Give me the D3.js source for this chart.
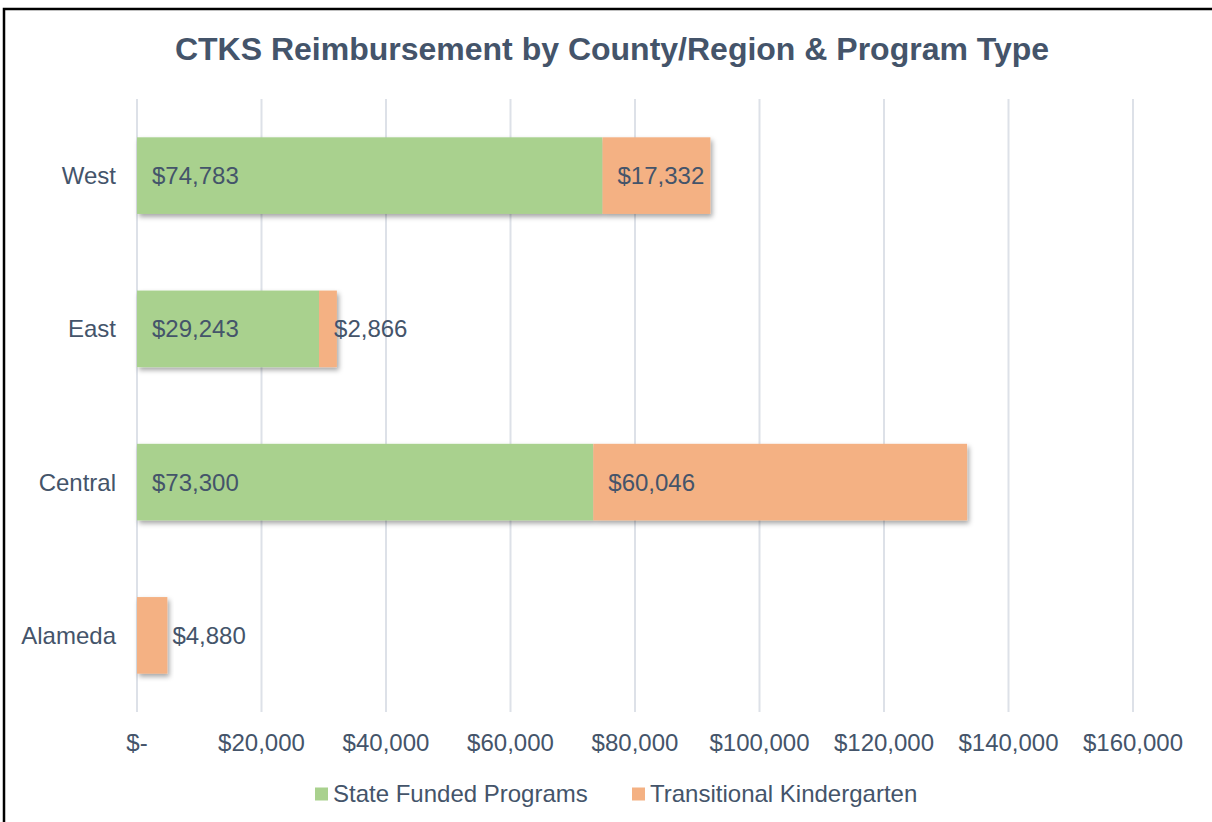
<!DOCTYPE html>
<html>
<head>
<meta charset="utf-8">
<script src="https://cdn.jsdelivr.net/npm/d3@7"></script>
<style>
  html, body { margin: 0; background: #fff; overflow: hidden; }
  svg { display: block; }
  svg text { font-family: "Liberation Sans", Arial, sans-serif; fill: #44546A; }
</style>
</head>
<body>
<div id="chart"></div>
<script>
// data
const regions = ["West", "East", "Central", "Alameda"];
const stateFunded = [74783, 29243, 73300, 0];
const transitionalK = [17332, 2866, 60046, 4880];
const seriesNames = ["State Funded Programs", "Transitional Kindergarten"];
const seriesColors = ["#A9D18E", "#F4B183"];
const xTicks = [0, 20000, 40000, 60000, 80000, 100000, 120000, 140000, 160000];

const W = 1212, H = 822;
const margin = {top: 99, right: 78, bottom: 110, left: 137};
const width = W - margin.left - margin.right;
const height = H - margin.top - margin.bottom;

const svg = d3.select("#chart").append("svg")
  .attr("width", W)
  .attr("height", H);

// drop shadow for the bars
const defs = svg.append("defs");
const shadow = defs.append("filter").attr("id", "shadow")
  .attr("x", "-20%").attr("y", "-20%").attr("width", "140%").attr("height", "150%");
shadow.append("feDropShadow")
  .attr("dx", 2).attr("dy", 3).attr("stdDeviation", 2.5)
  .attr("flood-color", "#000").attr("flood-opacity", 0.35);

// outer frame (only top and left edges are visible in the crop)
svg.append("rect")
  .attr("x", 4).attr("y", 9)
  .attr("width", W + 20).attr("height", H + 20)
  .attr("fill", "none").attr("stroke", "#000").attr("stroke-width", 2.5);

svg.append("text")
  .attr("x", 612).attr("y", 60)
  .attr("text-anchor", "middle")
  .style("font-size", "32px").style("font-weight", "bold")
  .text("CTKS Reimbursement by County/Region & Program Type");

const g = svg.append("g")
  .attr("transform", "translate(" + margin.left + "," + margin.top + ")");

const x = d3.scaleLinear().domain([0, 160000]).range([0, 996]);
const y = d3.scaleBand().domain(regions).range([0, height]).paddingInner(0.5).paddingOuter(0.25);

// gridlines
g.selectAll(".grid").data(xTicks).enter().append("line")
  .attr("class", "grid")
  .attr("x1", d => x(d)).attr("x2", d => x(d))
  .attr("y1", 0).attr("y2", height)
  .attr("stroke", "#DDE1E8").attr("stroke-width", 2);

// x axis labels
const fmt = d => d === 0 ? "$-" : "$" + d3.format(",")(d);
g.selectAll(".xlab").data(xTicks).enter().append("text")
  .attr("class", "xlab")
  .attr("x", d => x(d)).attr("y", height + 39)
  .attr("text-anchor", "middle")
  .style("font-size", "24px")
  .text(fmt);

// category labels
g.selectAll(".ylab").data(regions).enter().append("text")
  .attr("class", "ylab")
  .attr("x", -21).attr("y", d => y(d) + y.bandwidth() / 2)
  .attr("dy", "0.35em")
  .attr("text-anchor", "end")
  .style("font-size", "24px")
  .text(d => d);

// stacked segments
const rows = regions.map((r, i) => ({region: r, values: [stateFunded[i], transitionalK[i]]}));
const segs = [];
rows.forEach(row => {
  let start = 0;
  row.values.forEach((v, s) => {
    if (v > 0) segs.push({region: row.region, series: s, x0: start, x1: start + v, value: v});
    start += v;
  });
});

const barG = g.append("g");
rows.forEach(row => {
  const rs = segs.filter(d => d.region === row.region);
  const rg = barG.append("g").attr("filter", "url(#shadow)");
  rg.selectAll("rect").data(rs).enter().append("rect")
    .attr("x", d => x(d.x0))
    .attr("y", y(row.region))
    .attr("width", d => x(d.x1) - x(d.x0))
    .attr("height", y.bandwidth())
    .attr("fill", d => seriesColors[d.series]);
});

// value labels
g.selectAll(".val").data(segs).enter().append("text")
  .attr("class", "val")
  .attr("x", d => (d.x0 === 0 && x(d.x1) - x(d.x0) < 40) ? x(d.x1) + 5 : x(d.x0) + 15)
  .attr("y", d => y(d.region) + y.bandwidth() / 2)
  .attr("dy", "0.35em")
  .style("font-size", "24px")
  .text(d => "$" + d3.format(",")(d.value));

// legend
const legend = svg.append("g").attr("transform", "translate(0,794)");
const legX = [315, 632];
seriesNames.forEach((n, i) => {
  legend.append("rect")
    .attr("x", legX[i]).attr("y", -6.5)
    .attr("width", 13).attr("height", 13)
    .attr("fill", seriesColors[i]);
  legend.append("text")
    .attr("x", legX[i] + 18).attr("y", 0)
    .attr("dy", "0.35em")
    .style("font-size", "24px")
    .text(n);
});
</script>
</body>
</html>
